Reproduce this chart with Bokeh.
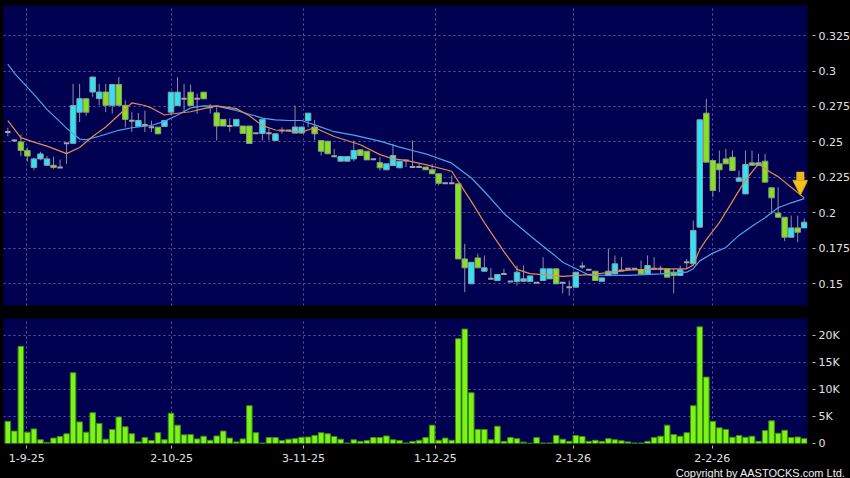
from bokeh.plotting import figure
from bokeh.layouts import column
from bokeh.models import FixedTicker, Range1d, Title, Arrow, NormalHead, GlobalInlineStyleSheet
from bokeh.embed import file_html
from bokeh.resources import INLINE

# ---------------- data ----------------
date_labels = ["1-9-25", "2-10-25", "3-11-25", "1-12-25", "2-1-26", "2-2-26"]
date_pos = [2.9, 25.1, 45.3, 65.5, 86.6, 107.9]

price_ticks = [0.15, 0.175, 0.2, 0.225, 0.25, 0.275, 0.3, 0.325]
price_tick_labels = ["0.15", "0.175", "0.2", "0.225", "0.25", "0.275", "0.3", "0.325"]
vol_ticks = [0, 5000, 10000, 15000, 20000]
vol_tick_labels = ["0", "5K", "10K", "15K", "20K"]

opens = [0.257, 0.251, 0.250, 0.244, 0.232, 0.238, 0.2335, 0.2335, 0.232, 0.249,
         0.249, 0.271, 0.2805, 0.2852, 0.2805, 0.2852, 0.2758, 0.2905, 0.2758, 0.265,
         0.261, 0.262, 0.2604, 0.2604, 0.2609, 0.271, 0.2757, 0.2805, 0.2851, 0.2805,
         0.2851, 0.2745, 0.2705, 0.2659, 0.2612, 0.2612, 0.2612, 0.2612, 0.2561, 0.2560,
         0.2561, 0.2510, 0.258, 0.258, 0.2562, 0.2562, 0.2651, 0.2605, 0.2510, 0.2505,
         0.2399, 0.2364, 0.2364, 0.2380, 0.2444, 0.2434, 0.2378, 0.2354, 0.2303, 0.2333,
         0.2317, 0.2369, 0.2322, 0.2322, 0.2322, 0.2303, 0.2275, 0.2208, 0.2208, 0.2204,
         0.1674, 0.1498, 0.1681, 0.1587, 0.1533, 0.1521, 0.1568, 0.1514, 0.1514, 0.1516,
         0.1514, 0.1505, 0.1521, 0.1533, 0.1604, 0.1505, 0.1474, 0.1474, 0.162, 0.1597,
         0.1587, 0.1516, 0.1556, 0.1568, 0.1592, 0.1604, 0.1604, 0.1599, 0.1568, 0.1604,
         0.1604, 0.1604, 0.158, 0.1557, 0.165, 0.1639, 0.1898, 0.2703, 0.2369, 0.2345,
         0.2380, 0.2392, 0.2222, 0.2133, 0.2352, 0.2335, 0.2364, 0.2176, 0.1997, 0.1968,
         0.1827, 0.1893, 0.1893]
highs = [0.260, 0.252, 0.255, 0.246, 0.239, 0.243, 0.240, 0.2395, 0.2375, 0.249,
         0.291, 0.291, 0.2805, 0.2958, 0.291, 0.291, 0.2905, 0.2958, 0.2793, 0.271,
         0.2705, 0.272, 0.265, 0.2604, 0.2651, 0.2851, 0.2957, 0.291, 0.2905, 0.284,
         0.2851, 0.2769, 0.2745, 0.2659, 0.2666, 0.2659, 0.2612, 0.2612, 0.2561, 0.2659,
         0.2595, 0.2557, 0.2604, 0.258, 0.2757, 0.2605, 0.2703, 0.2656, 0.2510, 0.2505,
         0.2451, 0.2397, 0.2397, 0.251, 0.2444, 0.2434, 0.2378, 0.2392, 0.2345, 0.2487,
         0.2364, 0.2369, 0.251, 0.2345, 0.2322, 0.2345, 0.2275, 0.2208, 0.2263, 0.2204,
         0.178, 0.1650, 0.1710, 0.1698, 0.161, 0.1564, 0.1604, 0.1514, 0.1627, 0.1627,
         0.1554, 0.1505, 0.1686, 0.1604, 0.1604, 0.1505, 0.1521, 0.158, 0.1651, 0.1597,
         0.1587, 0.154, 0.1747, 0.1698, 0.1686, 0.1604, 0.1604, 0.1663, 0.1698, 0.1686,
         0.1627, 0.1604, 0.1604, 0.1627, 0.1674, 0.1945, 0.2656, 0.2804, 0.2369, 0.2439,
         0.2451, 0.2439, 0.2298, 0.2439, 0.2439, 0.2415, 0.2415, 0.2176, 0.2180, 0.1968,
         0.1980, 0.1980, 0.1960]
lows = [0.254, 0.250, 0.240, 0.236, 0.230, 0.237, 0.233, 0.231, 0.232, 0.2345,
        0.249, 0.264, 0.2685, 0.2818, 0.276, 0.271, 0.270, 0.2758, 0.2603, 0.257,
        0.261, 0.257, 0.257, 0.2557, 0.2609, 0.269, 0.2757, 0.2711, 0.2757, 0.270,
        0.2804, 0.270, 0.251, 0.2612, 0.2572, 0.2612, 0.2560, 0.2489, 0.2561, 0.251,
        0.251, 0.2510, 0.2557, 0.258, 0.2562, 0.2562, 0.2605, 0.251, 0.2404, 0.2416,
        0.2392, 0.2364, 0.2364, 0.2364, 0.2404, 0.2373, 0.2378, 0.2297, 0.2303, 0.2333,
        0.2317, 0.2322, 0.2322, 0.2322, 0.2303, 0.2275, 0.2193, 0.2208, 0.2208, 0.1674,
        0.1439, 0.1498, 0.1611, 0.1587, 0.1533, 0.1521, 0.1568, 0.1514, 0.1486, 0.1516,
        0.1514, 0.1505, 0.1521, 0.1533, 0.1498, 0.143, 0.1415, 0.1474, 0.1604, 0.1597,
        0.1521, 0.1516, 0.1556, 0.1568, 0.1592, 0.1604, 0.1604, 0.1568, 0.1568, 0.1604,
        0.157, 0.1545, 0.143, 0.1557, 0.1604, 0.1639, 0.1898, 0.2357, 0.211, 0.2145,
        0.2345, 0.2298, 0.2222, 0.2133, 0.2335, 0.2335, 0.2216, 0.1992, 0.1968, 0.1800,
        0.1827, 0.1792, 0.1893]
closes = [0.257, 0.251, 0.244, 0.240, 0.238, 0.2415, 0.238, 0.232, 0.232, 0.249,
          0.2757, 0.2805, 0.271, 0.2958, 0.2852, 0.2758, 0.2905, 0.2758, 0.2659, 0.265,
          0.2651, 0.262, 0.2604, 0.2557, 0.2651, 0.2851, 0.2851, 0.2805, 0.2757, 0.2805,
          0.2804, 0.2745, 0.2612, 0.2612, 0.2612, 0.2659, 0.2560, 0.2489, 0.2561, 0.2659,
          0.2561, 0.2557, 0.258, 0.258, 0.2605, 0.2605, 0.2703, 0.2557, 0.2434, 0.2416,
          0.2399, 0.2397, 0.2397, 0.2439, 0.2404, 0.2373, 0.2378, 0.2317, 0.2345, 0.2404,
          0.2364, 0.2369, 0.2322, 0.2322, 0.2303, 0.2275, 0.2208, 0.2208, 0.2208, 0.1674,
          0.1611, 0.1650, 0.1611, 0.1611, 0.1533, 0.1564, 0.1568, 0.1514, 0.1580, 0.1533,
          0.1554, 0.1505, 0.1604, 0.1604, 0.1498, 0.1505, 0.1474, 0.158, 0.162, 0.1597,
          0.1521, 0.154, 0.1587, 0.1639, 0.1592, 0.1604, 0.1604, 0.1568, 0.1627, 0.1604,
          0.1604, 0.1545, 0.1557, 0.1597, 0.165, 0.1874, 0.2656, 0.2357, 0.2157, 0.2303,
          0.2345, 0.2298, 0.2246, 0.2340, 0.2335, 0.2352, 0.2216, 0.2105, 0.1968, 0.1827,
          0.1893, 0.1862, 0.1933]
volumes_k = [4.1, 2.3, 18.0, 2.1, 2.7, 0.7, 0.2, 1.0, 1.3, 1.8,
             13.1, 4.0, 2.1, 5.7, 3.7, 0.8, 2.6, 4.9, 3.1, 1.8,
             0.3, 1.1, 0.55, 2.0, 0.7, 5.6, 3.4, 1.6, 1.65, 0.85,
             1.35, 0.6, 1.4, 2.3, 1.0, 0.3, 0.85, 7.0, 2.0, 0.1,
             1.1, 1.1, 0.55, 0.8, 0.9, 1.15, 1.2, 1.5, 2.0, 1.8,
             1.3, 0.8, 0.1, 0.7, 0.4, 0.55, 1.1, 1.1, 1.4, 0.7,
             0.55, 0.1, 0.4, 0.6, 1.1, 3.4, 0.6, 1.0, 0.6, 19.4,
             21.2, 9.4, 2.6, 2.6, 0.7, 3.2, 0.4, 1.1, 0.9, 0.25,
             0.05, 1.1, 0.1, 0.1, 1.5, 0.8, 0.4, 1.5, 1.3, 0.4,
             0.6, 0.4, 0.9, 0.7, 0.5, 0.3, 0.1, 0.1, 0.4, 1.1,
             1.35, 3.4, 1.65, 1.35, 2.0, 7.0, 21.6, 12.3, 4.1, 2.9,
             2.6, 1.15, 1.5, 1.15, 1.35, 0.4, 2.4, 4.2, 1.9, 2.45,
             1.1, 1.2, 0.9]

ma10_idx = [0, 2, 4, 6, 9, 11, 13, 15, 17, 19, 21, 22, 24, 25, 28, 30, 32, 35, 37, 39,
            41, 43, 45, 47, 50, 54, 57, 59, 61, 64, 68, 71, 73, 76, 78, 80, 85, 90, 95, 100,
            104, 105, 106, 107, 109, 111, 113, 115, 117, 118, 120, 122]
ma10_val = [0.2650, 0.2530, 0.2498, 0.2470, 0.2417, 0.2460, 0.2538, 0.2605, 0.2690, 0.2775,
            0.2757, 0.2740, 0.2690, 0.2697, 0.2713, 0.2735, 0.2754, 0.2735, 0.2685, 0.2615,
            0.2584, 0.2577, 0.2569, 0.2600, 0.2538, 0.2480, 0.2410, 0.2380, 0.2369, 0.2340,
            0.2293, 0.2080, 0.1930, 0.1725, 0.1600, 0.1570, 0.1550, 0.1566, 0.1595, 0.1604,
            0.1604, 0.1630, 0.1740, 0.1810, 0.1930, 0.2080, 0.2230, 0.2345, 0.2280, 0.2255,
            0.2180, 0.2105]
ma20_idx = [0, 1, 4, 6, 9, 11, 12, 14, 17, 19, 22, 24, 26, 28, 30, 32, 35, 37, 39, 41,
            43, 45, 47, 50, 53, 57, 60, 62, 64, 68, 71, 73, 76, 78, 81, 84, 85, 89, 95, 100,
            104, 105, 106, 108, 110, 112, 114, 116, 118, 120, 122]
ma20_val = [0.3050, 0.2985, 0.2835, 0.2730, 0.2597, 0.2520, 0.2515, 0.2540, 0.2582, 0.2600,
            0.2616, 0.2645, 0.2690, 0.2740, 0.2755, 0.2752, 0.2722, 0.2695, 0.2668, 0.2655,
            0.2651, 0.2651, 0.2620, 0.2572, 0.2548, 0.2505, 0.2463, 0.2439, 0.2416, 0.2350,
            0.2245, 0.2150, 0.1995, 0.1915, 0.1800, 0.1690, 0.1650, 0.1560, 0.1557, 0.1568,
            0.1580, 0.1605, 0.1660, 0.1715, 0.1755, 0.1840, 0.1905, 0.1965, 0.2035, 0.2070,
            0.2100]

# ---------------- derived ----------------
n = len(opens)
idx = list(range(n))
up = [i for i in idx if closes[i] > opens[i]]
dn = [i for i in idx if closes[i] < opens[i]]
dj = [i for i in idx if closes[i] == opens[i]]
volumes = [v * 1000 for v in volumes_k]

BG = "#000050"
GRID = "#5c5c9c"
LBL = "#e0e0e0"
FONT = "DejaVu Sans"

page_css = GlobalInlineStyleSheet(css="body { background: #000000; }")


def style(fig):
    fig.background_fill_color = BG
    fig.border_fill_color = "black"
    fig.outline_line_color = None
    for g in (fig.xgrid, fig.ygrid):
        g.grid_line_color = GRID
        g.grid_line_dash = "2 3"
        g.grid_line_width = 1
    for ax in fig.yaxis:
        ax.axis_line_color = None
        ax.major_tick_line_color = "#bbbbbb"
        ax.major_tick_out = 8
        ax.major_tick_in = -5
        ax.minor_tick_line_color = None
        ax.major_label_text_color = LBL
        ax.major_label_text_font = FONT
        ax.major_label_text_font_size = "11px"
        ax.major_label_standoff = 3


x_range = Range1d(-0.66, 122.5)

# ---------------- price panel ----------------
p1 = figure(frame_width=804, frame_height=300, x_range=x_range,
            y_range=Range1d(0.1345, 0.3463), output_backend="svg",
            toolbar_location=None, y_axis_location="right",
            min_border_left=3, min_border_right=43, min_border_top=5,
            min_border_bottom=13)
style(p1)
p1.xaxis.visible = False
p1.xgrid.ticker = FixedTicker(ticks=date_pos)
p1.ygrid.ticker = FixedTicker(ticks=price_ticks)
p1.yaxis.ticker = FixedTicker(ticks=price_ticks)
p1.yaxis.major_label_overrides = dict(zip(price_ticks, price_tick_labels))

p1.segment(x0=idx, y0=lows, x1=idx, y1=highs, line_color="#8e8e9e", line_width=1)
p1.vbar(x=up, width=0.84, bottom=[opens[i] for i in up], top=[closes[i] for i in up],
        fill_color="#2de4f4", line_color="#8fa0aa", line_width=1)
p1.vbar(x=dn, width=0.84, bottom=[closes[i] for i in dn], top=[opens[i] for i in dn],
        fill_color="#84e41c", line_color="#8f9a88", line_width=1)
p1.segment(x0=[i - 0.42 for i in dj], y0=[closes[i] for i in dj],
           x1=[i + 0.42 for i in dj], y1=[closes[i] for i in dj],
           line_color="#a4a4a4", line_width=2)

p1.line(ma20_idx, ma20_val, line_color="#48a8ee", line_width=1.2)
p1.line(ma10_idx, ma10_val, line_color="#e8884e", line_width=1.2)

# marker arrow at the last moving-average value
ax_x = ma10_idx[-1] - 0.6
ax_y = ma10_val[-1]
p1.add_layout(Arrow(end=NormalHead(size=15, fill_color="#f6c21c", line_color="#d89a10"),
                    x_start=ax_x, y_start=ax_y + 0.0185, x_end=ax_x, y_end=ax_y + 0.0018,
                    line_color="#f2b41a", line_width=8))

# ---------------- volume panel ----------------
p2 = figure(frame_width=804, frame_height=125, x_range=x_range,
            y_range=Range1d(0, 23150), output_backend="svg",
            toolbar_location=None, y_axis_location="right",
            min_border_left=3, min_border_right=43, min_border_top=0,
            min_border_bottom=0)
style(p2)
p2.xgrid.ticker = FixedTicker(ticks=date_pos)
p2.ygrid.ticker = FixedTicker(ticks=vol_ticks)
p2.yaxis.ticker = FixedTicker(ticks=vol_ticks)
p2.yaxis.major_label_overrides = dict(zip(vol_ticks, vol_tick_labels))
p2.xaxis.ticker = FixedTicker(ticks=date_pos)
p2.xaxis.major_label_overrides = dict(zip(date_pos, date_labels))
p2.xaxis.axis_line_color = None
p2.xaxis.major_tick_line_color = "#bbbbbb"
p2.xaxis.major_tick_out = 5
p2.xaxis.major_tick_in = -2
p2.xaxis.minor_tick_line_color = None
p2.xaxis.major_label_text_color = LBL
p2.xaxis.major_label_text_font = FONT
p2.xaxis.major_label_text_font_size = "11px"
p2.xaxis.major_label_standoff = 5

p2.vbar(x=idx, width=0.85, bottom=0, top=volumes,
        fill_color="#7cf418", line_color="#3c8e0c", line_width=1)

p2.add_layout(Title(text="Copyright by AASTOCKS.com Ltd.", align="right",
                    text_color="#f0f0f0", text_font="Liberation Sans",
                    text_font_size="11px", text_font_style="normal",
                    standoff=0, offset=-38), "below")

p = column(p1, p2, spacing=0, stylesheets=[page_css])

open("out.html", "w").write(file_html(p, INLINE))
